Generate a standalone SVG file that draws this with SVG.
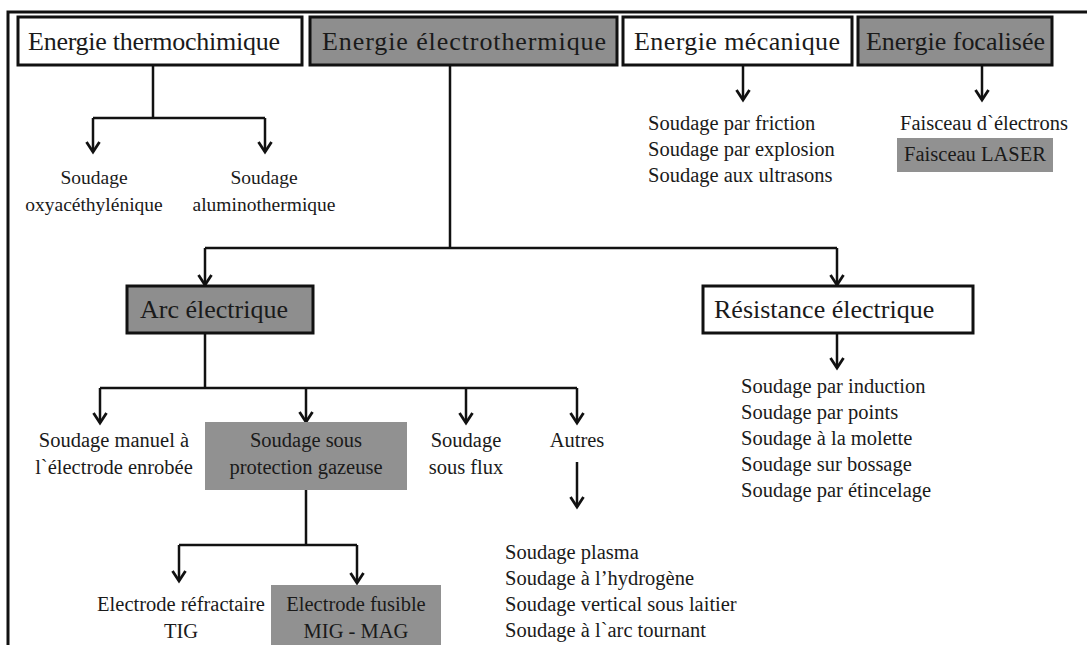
<svg xmlns="http://www.w3.org/2000/svg" width="1087" height="645" viewBox="0 0 1087 645">
<defs>
<style>
text{font-family:"Liberation Serif","Times New Roman",serif;fill:#1a1a1a}
.t{font-size:26px}
.s{font-size:20.5px}
.m{font-size:19.5px}
.c{text-anchor:middle}
.bw{fill:#fff;stroke:#111;stroke-width:3}
.bg{fill:#8e8e8e;stroke:#111;stroke-width:3}
.bf{fill:#919191;stroke:none}
.ln{fill:none;stroke:#111;stroke-width:2.5}
.ar{fill:none;stroke:#111;stroke-width:2.5;marker-end:url(#ah)}
</style>
<marker id="ah" markerUnits="userSpaceOnUse" markerWidth="20" markerHeight="20" viewBox="-12 -10 16 20" refX="0" refY="0" orient="auto" overflow="visible">
<path d="M-10,-6.5 L0,0 L-10,6.5" fill="none" stroke="#111" stroke-width="2.8"/>
</marker>
</defs>
<rect width="1087" height="645" fill="#fff"/>
<path d="M1087,12 H8 V645" fill="none" stroke="#111" stroke-width="3"/>

<g id="connectors">
<path class="ln" d="M153,65 V118 M93,118 H265"/>
<path class="ar" d="M93,118 V152"/>
<path class="ar" d="M265,118 V152"/>
<path class="ar" d="M743,65 V100"/>
<path class="ar" d="M982,65 V100"/>
<path class="ln" d="M450,65 V248 M205,248 H837"/>
<path class="ar" d="M205,248 V285"/>
<path class="ar" d="M837,248 V285"/>
<path class="ar" d="M837,333 V368"/>
<path class="ln" d="M205,333 V388 M100,388 H577"/>
<path class="ar" d="M100,388 V423"/>
<path class="ar" d="M306,388 V422"/>
<path class="ar" d="M466,388 V423"/>
<path class="ar" d="M577,388 V423"/>
<path class="ar" d="M577,462 V507"/>
<path class="ln" d="M306,490 V545 M179,545 H357"/>
<path class="ar" d="M179,545 V581"/>
<path class="ar" d="M357,545 V583"/>
</g>

<g id="n-thermochimique"><rect class="bw" x="18" y="17" width="284" height="48"/><text class="t" x="28" y="50" textLength="252" lengthAdjust="spacing">Energie thermochimique</text></g>
<g id="n-electrothermique"><rect class="bg" x="310" y="17" width="307" height="48"/><text class="t" x="322" y="50" textLength="284" lengthAdjust="spacing">Energie électrothermique</text></g>
<g id="n-mecanique"><rect class="bw" x="623" y="17" width="229" height="48"/><text class="t" x="634" y="50" textLength="206" lengthAdjust="spacing">Energie mécanique</text></g>
<g id="n-focalisee"><rect class="bg" x="858" y="17" width="194" height="48"/><text class="t" x="866" y="50" textLength="179" lengthAdjust="spacing">Energie focalisée</text></g>

<g id="n-oxy"><text class="m c" x="94" y="184">Soudage</text><text class="m c" x="94" y="211">oxyacéthylénique</text></g>
<g id="n-alu"><text class="m c" x="264" y="184">Soudage</text><text class="m c" x="264" y="211">aluminothermique</text></g>

<g id="n-meca-list"><text class="s" x="648" y="130">Soudage par friction</text><text class="s" x="648" y="156">Soudage par explosion</text><text class="s" x="648" y="182">Soudage aux ultrasons</text></g>
<g id="n-electrons"><text class="s" x="900" y="130">Faisceau d`électrons</text></g>
<g id="n-laser"><rect class="bf" x="897" y="138" width="156" height="34"/><text class="s c" x="975" y="161">Faisceau LASER</text></g>

<g id="n-arc"><rect class="bg" x="127" y="286" width="186" height="47"/><text class="t" x="140" y="318">Arc électrique</text></g>
<g id="n-resistance"><rect class="bw" x="703" y="286" width="270" height="47"/><text class="t" x="714" y="318">Résistance  électrique</text></g>

<g id="n-res-list"><text class="s" x="741" y="393">Soudage par induction</text><text class="s" x="741" y="419">Soudage par points</text><text class="s" x="741" y="445">Soudage à la molette</text><text class="s" x="741" y="471">Soudage sur bossage</text><text class="s" x="741" y="497">Soudage par étincelage</text></g>

<g id="n-manuel"><text class="s c" x="114" y="447">Soudage manuel à</text><text class="s c" x="114" y="474">l`électrode  enrobée</text></g>
<g id="n-gaz"><rect class="bf" x="205" y="422" width="202" height="68"/><text class="s c" x="306" y="447">Soudage sous</text><text class="s c" x="306" y="474">protection gazeuse</text></g>
<g id="n-flux"><text class="s c" x="466" y="447">Soudage</text><text class="s c" x="466" y="474">sous flux</text></g>
<g id="n-autres"><text class="s c" x="577" y="447">Autres</text></g>
<g id="n-autres-list"><text class="s" x="505" y="559">Soudage plasma</text><text class="s" x="505" y="585">Soudage à l’hydrogène</text><text class="s" x="505" y="611">Soudage vertical  sous laitier</text><text class="s" x="505" y="637">Soudage à l`arc tournant</text></g>

<g id="n-tig"><text class="s c" x="181" y="611">Electrode réfractaire</text><text class="s c" x="181" y="638">TIG</text></g>
<g id="n-mig"><rect class="bf" x="271" y="585" width="170" height="65"/><text class="s c" x="356" y="611">Electrode fusible</text><text class="s c" x="356" y="638">MIG - MAG</text></g>
</svg>
